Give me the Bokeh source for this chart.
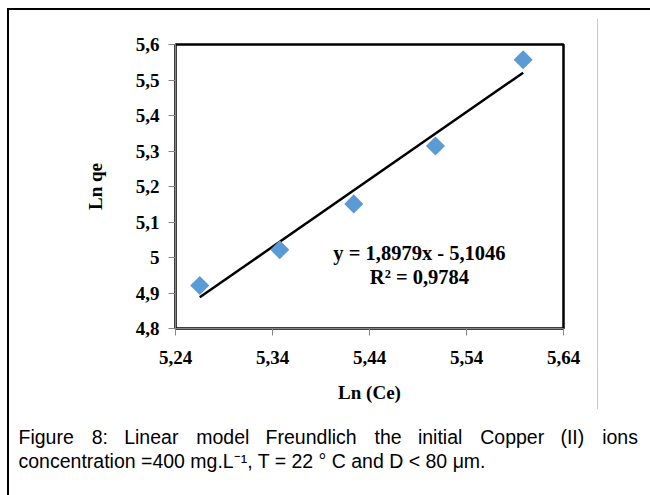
from bokeh.plotting import figure
from bokeh.models import Range1d, FixedTicker, Label, ColumnDataSource, InlineStyleSheet, Title
from bokeh.embed import file_html
from bokeh.resources import INLINE
import math

# ---- data ----
ln_ce = [5.265, 5.3475, 5.4238, 5.508, 5.5984]
ln_qe = [4.921, 5.022, 5.151, 5.314, 5.557]
slope = 1.8979
intercept = -5.1046
eq_text = "y = 1,8979x - 5,1046"
r2_text = "R\u00b2 = 0,9784"
x_ticks = [5.24, 5.34, 5.44, 5.54, 5.64]
x_tick_labels = ["5,24", "5,34", "5,44", "5,54", "5,64"]
y_ticks = [4.8, 4.9, 5.0, 5.1, 5.2, 5.3, 5.4, 5.5, 5.6]
y_tick_labels = ["4,8", "4,9", "5", "5,1", "5,2", "5,3", "5,4", "5,5", "5,6"]
caption_words = ["Figure", "8:", "Linear", "model", "Freundlich", "the",
                 "initial", "Copper", "(II)", "ions"]
caption_line2 = "concentration =400 mg.L\u207b\u00b9, T = 22 \u00b0 C and D < 80 \u03bcm."

# ---- layout (px) ----
W, H = 650, 495
FL, FR, FT, FB = 175, 563, 44, 328

serif = "Liberation Serif"
sans = "Liberation Sans"

css = InlineStyleSheet(css="""
:host { position: relative; }
:host::before {
  content: ""; position: absolute; left: 7px; top: 8px;
  width: 643px; height: 487px; box-sizing: border-box;
  border-left: 2px solid #000; border-top: 2px solid #000;
  z-index: 20; pointer-events: none;
}
:host::after {
  content: ""; position: absolute; left: 597px; top: 19px;
  width: 1px; height: 390px; background: #c8c8c8;
  z-index: 20; pointer-events: none;
}
""")

p = figure(width=W, height=H, output_backend="svg", toolbar_location=None,
           x_range=Range1d(5.24, 5.64), y_range=Range1d(4.8, 5.6),
           min_border_left=FL, min_border_right=W - FR,
           min_border_top=FT, min_border_bottom=H - FB,
           background_fill_color="white", border_fill_color="white",
           stylesheets=[css])
p.grid.visible = False
p.outline_line_color = "black"
p.outline_line_width = 2.5

p.xaxis.ticker = FixedTicker(ticks=x_ticks)
p.xaxis.major_label_overrides = {t: l for t, l in zip(x_ticks, x_tick_labels)}
p.yaxis.ticker = FixedTicker(ticks=y_ticks)
p.yaxis.major_label_overrides = {t: l for t, l in zip(y_ticks, y_tick_labels)}

for ax in (p.xaxis, p.yaxis):
    ax.axis_line_color = "#868686"
    ax.major_tick_line_color = "#868686"
    ax.major_tick_out = 7
    ax.major_tick_in = 0
    ax.minor_tick_line_color = None
    ax.major_label_text_font = serif
    ax.major_label_text_font_style = "bold"
    ax.major_label_text_font_size = "19px"
    ax.major_label_text_color = "black"
    ax.axis_label_text_font = serif
    ax.axis_label_text_font_style = "bold"
    ax.axis_label_text_font_size = "19px"
    ax.axis_label_text_color = "black"

p.xaxis.axis_label = "Ln (Ce)"
p.yaxis.axis_label = "Ln qe"
p.xaxis.major_label_standoff = 15
p.yaxis.major_label_standoff = 9
p.xaxis.axis_label_standoff = 15
p.yaxis.axis_label_standoff = 27

# trend line from the fitted equation, over the data extent
x0, x1 = min(ln_ce), max(ln_ce)
p.line([x0, x1], [slope * x0 + intercept, slope * x1 + intercept],
       line_color="black", line_width=2.5)

src = ColumnDataSource(dict(x=ln_ce, y=ln_qe))
p.scatter("x", "y", source=src, marker="square", size=13.5, angle=math.pi / 4,
          fill_color="#5B9BD5", line_color=None)

for txt, yy in ((eq_text, 5.012), (r2_text, 4.946)):
    p.add_layout(Label(x=5.4915, y=yy, text=txt, text_align="center",
                       text_baseline="middle", text_font=serif, text_font_style="bold",
                       text_font_size="20.5px", text_color="black"))

# ---- caption as one two-line title below the axis (line 1 justified) ----
gap_a = "\u00a0\u00a0 "
gap_b = "\u00a0\u00a0\u200a "
line1 = caption_words[0]
for i, w in enumerate(caption_words[1:]):
    line1 += (gap_b if i % 2 == 0 else gap_a) + w
cap = Title(text=line1 + "\n" + caption_line2, align="left", offset=18 - FL, standoff=41,
            vertical_align="top",
            text_font=sans, text_font_size="19.5px", text_font_style="normal",
            text_color="black", text_line_height=1.08)
p.add_layout(cap, "below")

open("out.html", "w").write(file_html(p, INLINE))
